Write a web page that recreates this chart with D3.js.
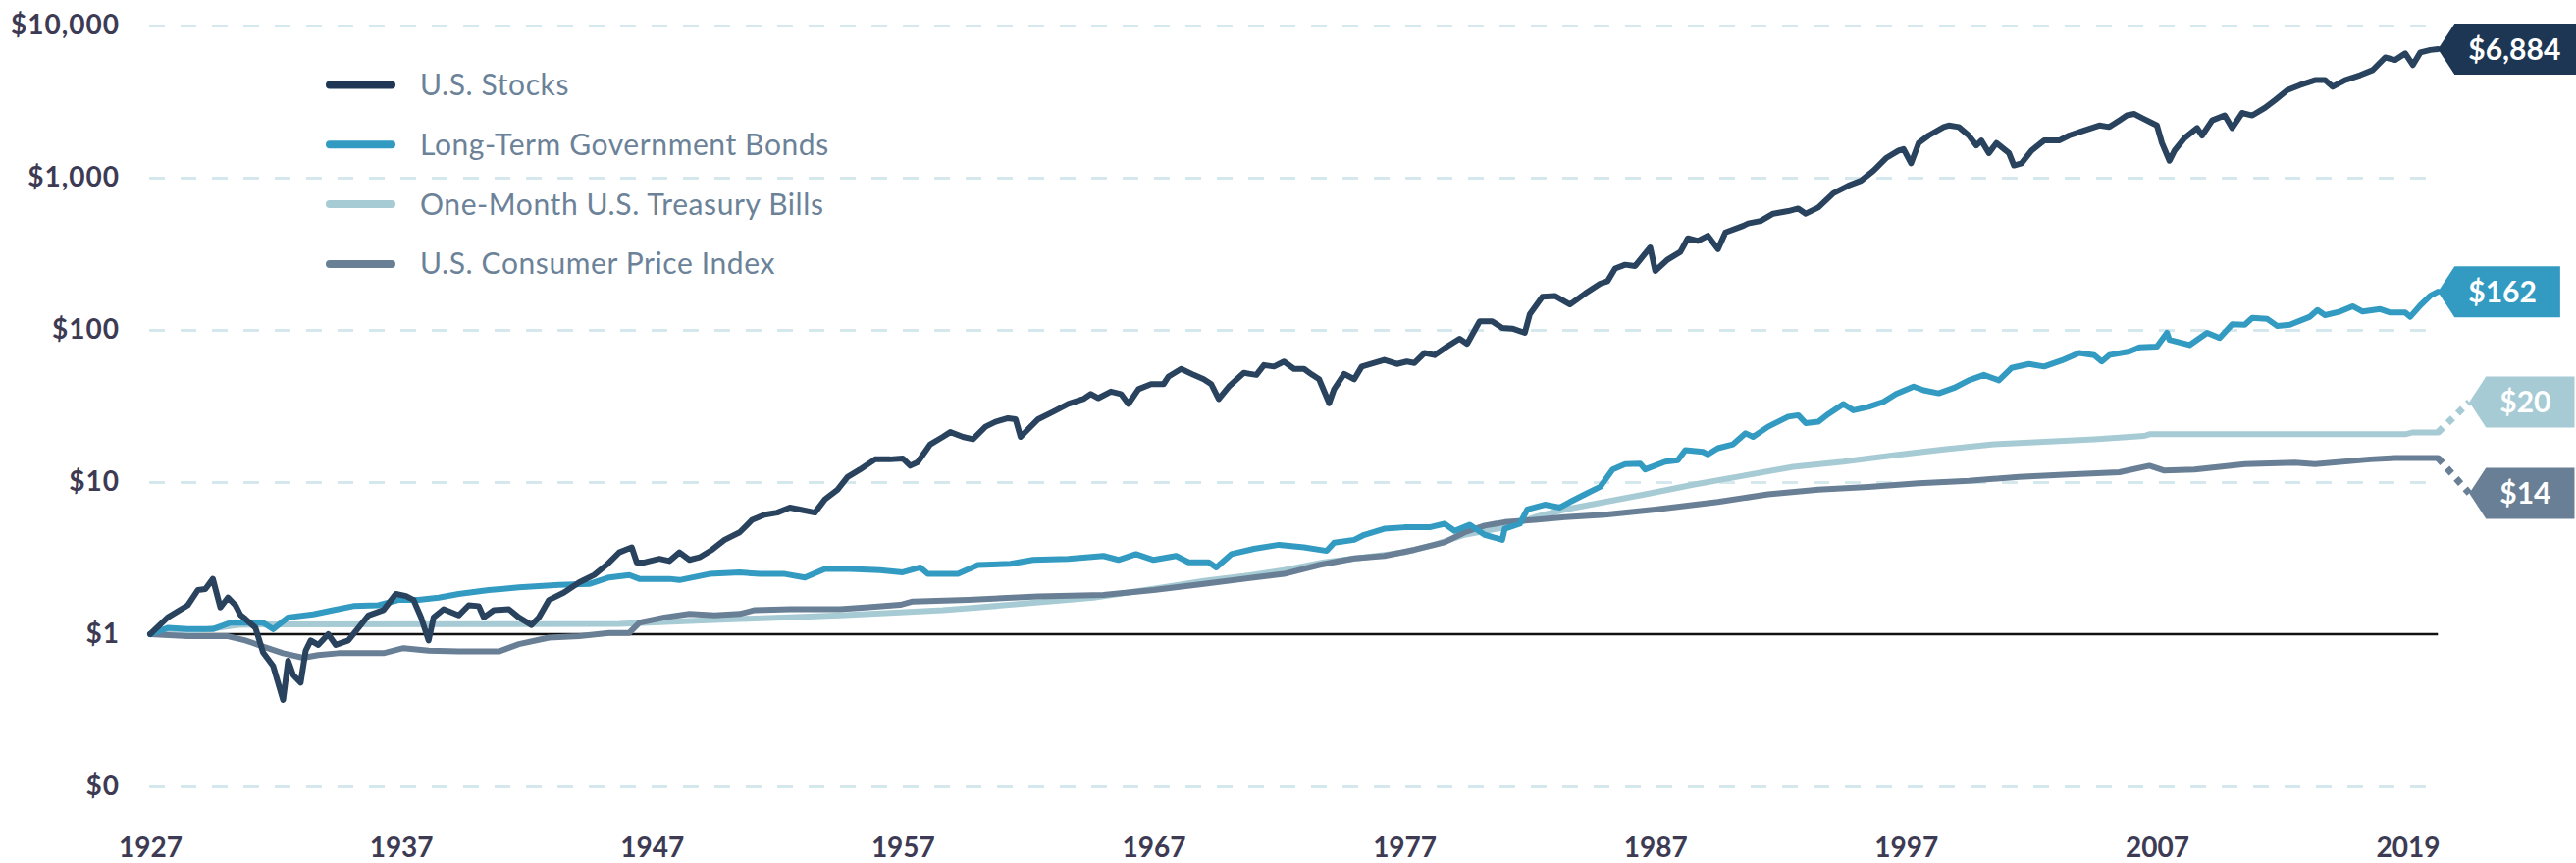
<!DOCTYPE html>
<html>
<head>
<meta charset="utf-8">
<script src="https://cdn.jsdelivr.net/npm/d3@7"></script>
<style>
  body { margin: 0; background: #fff; }
  svg { display: block; font-family: Lato, "Open Sans", sans-serif; }
</style>
</head>
<body>
<svg id="chart" width="2625" height="879"></svg>
<script>
// ---- data (growth of $1) ----
var seriesNames = ["U.S. Stocks", "Long-Term Government Bonds", "One-Month U.S. Treasury Bills", "U.S. Consumer Price Index"];

var stocks = [[1927.0,1.0],[1927.7,1.29],[1928.5,1.55],[1928.9,1.95],[1929.2,1.98],[1929.5,2.31],[1929.8,1.5],[1930.1,1.74],[1930.4,1.55],[1930.6,1.34],[1930.8,1.26],[1931.2,1.1],[1931.5,0.76],[1931.9,0.62],[1932.3,0.37],[1932.5,0.67],[1932.7,0.54],[1933.0,0.48],[1933.2,0.78],[1933.4,0.91],[1933.7,0.85],[1934.1,1.0],[1934.4,0.85],[1934.9,0.91],[1935.3,1.1],[1935.7,1.33],[1936.3,1.44],[1936.8,1.84],[1937.2,1.78],[1937.5,1.68],[1937.8,1.29],[1938.1,0.91],[1938.3,1.29],[1938.7,1.46],[1939.3,1.33],[1939.7,1.55],[1940.1,1.53],[1940.3,1.29],[1940.7,1.44],[1941.3,1.46],[1941.7,1.29],[1942.2,1.15],[1942.5,1.29],[1942.9,1.68],[1943.5,1.88],[1944.1,2.19],[1944.7,2.45],[1945.2,2.86],[1945.7,3.45],[1946.2,3.72],[1946.4,2.96],[1946.7,2.96],[1947.3,3.13],[1947.7,3.03],[1948.1,3.45],[1948.5,3.08],[1948.9,3.2],[1949.4,3.59],[1949.9,4.17],[1950.5,4.67],[1951.0,5.65],[1951.5,6.1],[1952.0,6.3],[1952.5,6.8],[1952.9,6.6],[1953.5,6.3],[1953.9,7.7],[1954.4,8.9],[1954.8,10.8],[1955.3,12.1],[1955.9,14.1],[1956.5,14.1],[1957.0,14.3],[1957.3,12.8],[1957.6,13.5],[1958.1,17.7],[1958.6,19.8],[1958.9,21.3],[1959.4,19.8],[1959.8,19.1],[1960.3,23.1],[1960.7,24.9],[1961.2,26.3],[1961.5,25.9],[1961.7,19.8],[1962.1,23.1],[1962.4,25.9],[1963.0,29],[1963.6,32.6],[1964.2,35.1],[1964.5,37.9],[1964.8,35.6],[1965.3,39.3],[1965.7,37.9],[1966.0,32.6],[1966.4,40.8],[1966.9,44],[1967.4,44],[1967.6,49.4],[1968.1,55.4],[1968.6,50.6],[1969.0,47.4],[1969.3,44],[1969.6,35.1],[1970.0,42.4],[1970.6,52.2],[1971.1,50.6],[1971.4,58.7],[1971.8,57.4],[1972.2,61.9],[1972.6,55.4],[1973.0,55.4],[1973.3,51],[1973.6,47.4],[1974.0,33],[1974.2,40.8],[1974.6,51.4],[1975.0,47.4],[1975.3,57.4],[1975.8,60.6],[1976.2,63.5],[1976.7,59.7],[1977.1,61.9],[1977.4,60.6],[1977.8,70.5],[1978.2,68.3],[1978.7,77.7],[1979.2,87.4],[1979.5,81],[1980.0,114],[1980.5,114],[1980.9,103],[1981.3,102],[1981.8,95.6],[1982.0,127],[1982.5,165],[1983.0,167],[1983.6,147],[1984.2,173],[1984.8,201],[1985.1,209],[1985.4,253],[1985.8,268],[1986.2,263],[1986.6,318],[1986.8,348],[1987.0,244],[1987.5,290],[1988.0,325],[1988.3,400],[1988.7,384],[1989.1,415],[1989.5,339],[1989.8,437],[1990.5,482],[1990.7,500],[1991.2,519],[1991.7,580],[1992.3,603],[1992.7,627],[1993.0,580],[1993.5,637],[1994.1,790],[1994.7,887],[1995.2,955],[1995.7,1112],[1996.2,1345],[1996.7,1507],[1996.9,1543],[1997.2,1244],[1997.5,1690],[1997.9,1894],[1998.5,2154],[1998.7,2204],[1999.1,2154],[1999.5,1894],[1999.8,1629],[2000.0,1756],[2000.3,1452],[2000.6,1690],[2001.1,1452],[2001.3,1203],[2001.6,1244],[2002.0,1507],[2002.5,1756],[2003.1,1756],[2003.5,1894],[2004.1,2043],[2004.7,2204],[2005.1,2154],[2005.5,2379],[2005.8,2567],[2006.1,2625],[2006.4,2470],[2006.8,2288],[2007.0,2204],[2007.2,1690],[2007.5,1292],[2007.7,1507],[2008.1,1824],[2008.6,2120],[2008.8,1894],[2009.2,2379],[2009.7,2567],[2010.0,2120],[2010.4,2665],[2010.8,2567],[2011.3,2877],[2011.7,3230],[2012.2,3764],[2012.7,4058],[2013.3,4378],[2013.7,4378],[2014.0,3960],[2014.5,4378],[2015.1,4720],[2015.6,5097],[2016.1,6170],[2016.5,5940],[2016.9,6560],[2017.2,5500],[2017.5,6660],[2017.9,6910],[2018.2,7000]];

var bonds = [[1927.0,1.0],[1927.7,1.1],[1928.5,1.08],[1929.5,1.08],[1930.2,1.19],[1931.5,1.19],[1931.9,1.08],[1932.5,1.29],[1933.5,1.35],[1934.3,1.44],[1935.1,1.53],[1936.1,1.55],[1936.9,1.68],[1937.7,1.68],[1938.5,1.74],[1939.3,1.84],[1940.5,1.95],[1941.7,2.03],[1943.3,2.11],[1944.5,2.14],[1945.3,2.36],[1946.1,2.45],[1946.5,2.31],[1947.7,2.31],[1948.1,2.27],[1949.3,2.49],[1950.5,2.55],[1951.3,2.49],[1952.3,2.49],[1953.1,2.36],[1953.9,2.69],[1954.9,2.69],[1956.1,2.64],[1957.0,2.55],[1957.7,2.75],[1958.0,2.49],[1959.2,2.49],[1960.0,2.85],[1961.3,2.9],[1962.2,3.08],[1963.6,3.13],[1965.0,3.27],[1965.6,3.08],[1966.3,3.36],[1967.0,3.08],[1967.9,3.27],[1968.4,2.97],[1969.2,2.97],[1969.5,2.75],[1970.1,3.36],[1971.0,3.64],[1972.0,3.87],[1973.0,3.72],[1973.9,3.53],[1974.2,4.0],[1975.0,4.17],[1975.4,4.5],[1976.2,4.93],[1977.0,5.04],[1978.0,5.04],[1978.6,5.32],[1979.0,4.78],[1979.6,5.24],[1980.2,4.5],[1980.9,4.17],[1981.0,4.93],[1981.6,5.32],[1981.9,6.6],[1982.6,7.1],[1983.2,6.8],[1983.6,7.4],[1984.2,8.3],[1984.8,9.3],[1985.3,12.1],[1985.8,13.1],[1986.4,13.2],[1986.6,12.1],[1987.4,13.6],[1987.9,13.9],[1988.2,16.2],[1988.9,15.8],[1989.1,15.2],[1989.5,16.7],[1990.1,17.7],[1990.6,20.9],[1990.9,19.8],[1991.5,23.1],[1992.3,26.9],[1992.7,27.5],[1993.0,24.4],[1993.5,24.9],[1993.9,28],[1994.5,32.6],[1994.9,29.6],[1995.5,31.2],[1996.1,33.7],[1996.6,37.9],[1997.3,42.4],[1997.7,40.1],[1998.3,38.3],[1998.9,41.5],[1999.5,46.6],[2000.1,50.6],[2000.7,46.6],[2001.2,56.2],[2001.9,59.7],[2002.5,57.4],[2003.2,62.9],[2003.9,70.5],[2004.5,68.3],[2004.8,62],[2005.1,68.3],[2005.9,72.2],[2006.3,76.7],[2007.0,77.7],[2007.4,95.6],[2007.5,86],[2008.3,79.5],[2009.0,95.6],[2009.5,88.5],[2010.0,109],[2010.5,108],[2010.8,120],[2011.4,118],[2011.8,106],[2012.3,108],[2013.1,122],[2013.4,135],[2013.7,125],[2014.3,132],[2014.8,143],[2015.2,132],[2015.9,137],[2016.3,130],[2016.9,130],[2017.1,122],[2017.5,145],[2017.9,168],[2018.2,178]];

var tbills = [[1927.0,1.0],[1928.5,1.04],[1929.7,1.1],[1930.5,1.15],[1931.7,1.16],[1945.7,1.17],[1948.5,1.22],[1950.5,1.26],[1952.5,1.29],[1954.5,1.33],[1956.5,1.38],[1958.6,1.44],[1960.0,1.5],[1961.6,1.58],[1963.0,1.65],[1964.6,1.74],[1966.0,1.88],[1967.4,2.03],[1969.0,2.24],[1970.6,2.41],[1972.2,2.64],[1973.8,2.97],[1975.4,3.2],[1977.0,3.45],[1978.2,3.87],[1979.4,4.5],[1981.0,5.04],[1982.2,5.88],[1983.4,6.6],[1985.0,7.4],[1986.6,8.3],[1988.5,9.6],[1990.5,11.0],[1992.5,12.6],[1994.5,13.6],[1996.5,15.0],[1998.5,16.4],[2000.5,17.7],[2002.5,18.4],[2004.5,19.1],[2006.5,20.1],[2006.7,20.6],[2016.9,20.6],[2017.2,21.2],[2018.2,21.2]];

var cpi = [[1927.0,1.0],[1928.5,0.97],[1930.1,0.97],[1930.8,0.91],[1931.5,0.83],[1932.3,0.75],[1933.1,0.70],[1933.7,0.73],[1934.5,0.75],[1936.3,0.75],[1937.1,0.81],[1938.1,0.78],[1939.3,0.77],[1940.9,0.77],[1941.7,0.86],[1942.9,0.95],[1944.1,0.97],[1945.3,1.02],[1946.1,1.02],[1946.5,1.19],[1947.5,1.29],[1948.5,1.36],[1949.5,1.33],[1950.5,1.36],[1951.1,1.44],[1952.5,1.46],[1954.5,1.46],[1955.5,1.5],[1956.9,1.56],[1957.4,1.64],[1959.6,1.68],[1962.4,1.77],[1965.0,1.81],[1967.0,1.95],[1969.0,2.14],[1971.0,2.36],[1972.2,2.49],[1973.6,2.85],[1975.0,3.15],[1976.2,3.27],[1977.4,3.59],[1978.6,4.02],[1979.4,4.67],[1980.2,5.17],[1981.0,5.45],[1982.2,5.65],[1983.4,5.88],[1985.0,6.1],[1987.0,6.6],[1989.5,7.4],[1991.5,8.3],[1993.5,8.9],[1995.5,9.3],[1997.5,9.8],[1999.5,10.2],[2001.5,10.8],[2003.5,11.2],[2005.5,11.6],[2006.7,12.8],[2007.3,11.9],[2008.5,12.1],[2010.5,13.1],[2012.5,13.4],[2013.3,13.1],[2015.5,14.1],[2016.5,14.4],[2018.2,14.4]];

var endLabels = ["$6,884", "$162", "$20", "$14"];

var yTickValues = [0.1, 1, 10, 100, 1000, 10000];
var yTickLabels = ["$0", "$1", "$10", "$100", "$1,000", "$10,000"];
var xTickYears = [1927, 1937, 1947, 1957, 1967, 1977, 1987, 1997, 2007, 2017];
var xTickLabels = ["1927", "1937", "1947", "1957", "1967", "1977", "1987", "1997", "2007", "2019"];

// ---- styles ----
var lineColors = ["#29435f", "#339bc1", "#a7cbd4", "#697f95"];
var legendColors = ["#1f3755", "#339bc1", "#a7cbd4", "#697f95"];
var tagColors = ["#1d3654", "#339bc1", "#a7cbd4", "#697f95"];
var tagShift = [[0, 0], [0, 0], [32, -31], [32, 36]];   // [dx, dy] of tag tip from line end
var labelColor = "#3d3b54";

var svg = d3.select("#chart");

// scales
var x = d3.scaleLinear().domain([1927, 2017]).range([153, 2453.6]);
var y = d3.scaleLog().domain([0.1, 10000]).range([801, 26]);

// dashed gridlines
var grid = svg.append("g")
    .attr("transform", "translate(152,0)")
    .call(d3.axisLeft(y).tickValues([0.1, 10, 100, 1000, 10000]).tickSize(-2324).tickFormat(""));
grid.select(".domain").remove();
grid.selectAll("line")
    .attr("stroke", "#d4e8ed")
    .attr("stroke-width", 3)
    .attr("stroke-dasharray", "16,16");

// y labels
var yAxis = svg.append("g")
    .attr("transform", "translate(152,0)")
    .call(d3.axisLeft(y).tickValues(yTickValues).tickSize(0).tickPadding(30)
        .tickFormat(function (d, i) { return yTickLabels[i]; }));
yAxis.select(".domain").remove();
yAxis.selectAll("text")
    .attr("fill", labelColor)
    .style("font-family", "Lato, sans-serif")
    .style("font-size", "28px")
    .style("font-weight", "700")
    .style("letter-spacing", "1px");

// x labels
var xAxis = svg.append("g")
    .attr("transform", "translate(0,801)")
    .call(d3.axisBottom(x).tickValues(xTickYears).tickSize(0).tickPadding(52)
        .tickFormat(function (d, i) { return xTickLabels[i]; }));
xAxis.select(".domain").remove();
xAxis.selectAll("text")
    .attr("fill", labelColor)
    .style("font-family", "Lato, sans-serif")
    .style("font-size", "28px")
    .style("font-weight", "700");

// $1 baseline
svg.append("line")
    .attr("x1", x(1927)).attr("x2", x(2018.2))
    .attr("y1", y(1)).attr("y2", y(1))
    .attr("stroke", "#111")
    .attr("stroke-width", 2.5);

// series lines (drawn back to front)
var allSeries = [stocks, bonds, tbills, cpi];
var line = d3.line()
    .x(function (d) { return x(d[0]); })
    .y(function (d) { return y(d[1]); });

[2, 3, 1, 0].forEach(function (i) {
    svg.append("path")
        .datum(allSeries[i])
        .attr("d", line)
        .attr("fill", "none")
        .attr("stroke", lineColors[i])
        .attr("stroke-width", 6)
        .attr("stroke-linejoin", "round")
        .attr("stroke-linecap", "round");
});

// end value tags
allSeries.forEach(function (s, i) {
    var last = s[s.length - 1];
    var ex = x(last[0]), ey = y(last[1]);
    var tx = ex + tagShift[i][0], ty = ey + tagShift[i][1];

    if (tagShift[i][0] > 0) {
        svg.append("line")
            .attr("x1", ex).attr("y1", ey)
            .attr("x2", tx).attr("y2", ty)
            .attr("stroke", lineColors[i])
            .attr("stroke-width", 7)
            .attr("stroke-dasharray", "7,7");
    }

    var tag = svg.append("g");
    var poly = tag.append("path").attr("fill", tagColors[i]);
    var txt = tag.append("text")
        .attr("x", tx + 31)
        .attr("y", ty)
        .attr("dy", "0.36em")
        .attr("fill", "#fff")
        .style("font-family", "Lato, sans-serif")
        .style("font-size", "30px")
        .style("font-weight", "700")
        .text(endLabels[i]);
    var w = txt.node().getComputedTextLength() + 38;
    var h = 26;
    poly.attr("d", "M" + tx + "," + ty +
        "L" + (tx + 17) + "," + (ty - h) +
        "L" + (tx + 17 + w) + "," + (ty - h) +
        "L" + (tx + 17 + w) + "," + (ty + h) +
        "L" + (tx + 17) + "," + (ty + h) + "Z");
});

// legend
var legend = svg.append("g");
seriesNames.forEach(function (name, i) {
    var ly = 86.5 + i * 60.8;
    legend.append("line")
        .attr("x1", 336).attr("x2", 399)
        .attr("y1", ly).attr("y2", ly)
        .attr("stroke", legendColors[i])
        .attr("stroke-width", 8)
        .attr("stroke-linecap", "round");
    legend.append("text")
        .attr("x", 428)
        .attr("y", ly)
        .attr("dy", "0.35em")
        .attr("fill", "#6b8298")
        .style("font-family", "Lato, sans-serif")
        .style("font-size", "30px")
        .style("font-weight", "400")
        .style("letter-spacing", "0.6px")
        .text(name);
});
</script>
</body>
</html>
